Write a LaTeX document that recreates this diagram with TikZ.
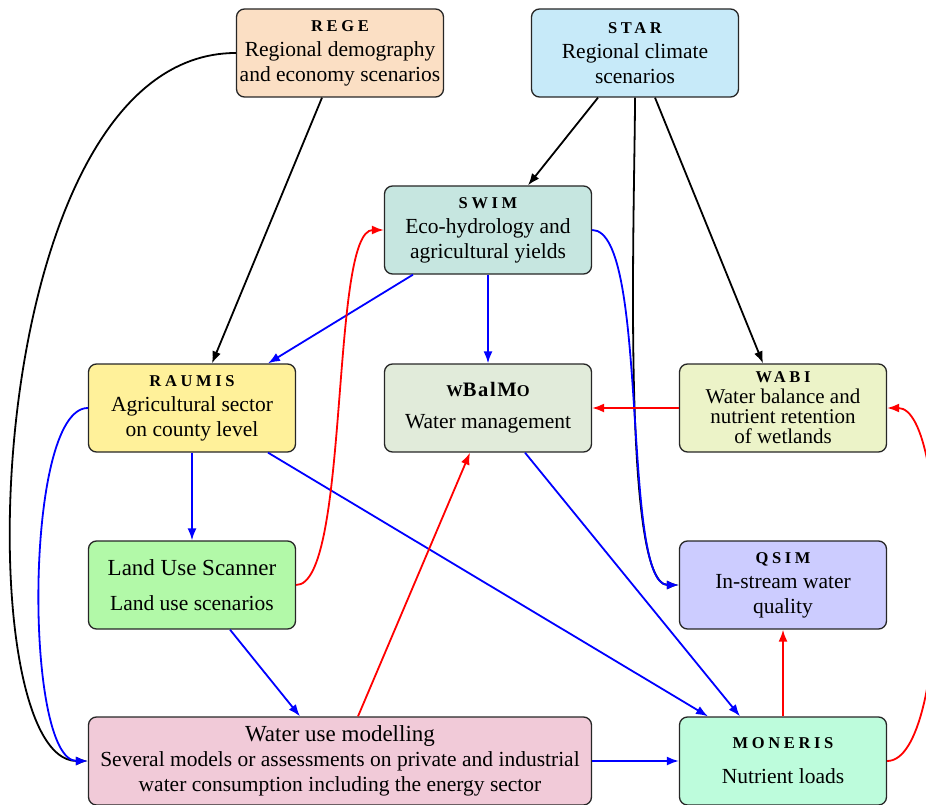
\documentclass[tikz,border=0pt]{standalone}
\usepackage{fontspec}
\setmainfont{Liberation Serif}
\usetikzlibrary{arrows.meta}
\newcommand\smc[1]{{\fontsize{16.5}{25}\selectfont\bfseries\addfontfeature{LetterSpace=22}#1}}
\definecolor{cRege}{RGB}{251,223,196}
\definecolor{cStar}{RGB}{199,234,249}
\definecolor{cSwim}{RGB}{198,230,224}
\definecolor{cRaumis}{RGB}{255,241,154}
\definecolor{cWbalmo}{RGB}{225,235,218}
\definecolor{cWabi}{RGB}{236,243,200}
\definecolor{cLus}{RGB}{178,249,168}
\definecolor{cQsim}{RGB}{204,204,255}
\definecolor{cWum}{RGB}{241,202,216}
\definecolor{cMoneris}{RGB}{189,252,220}
\begin{document}
\begin{tikzpicture}[x=1pt,y=-1pt,
  box/.style={draw=black!85, line width=1.3pt, rounded corners=8pt,
    minimum width=207pt, minimum height=88pt, inner sep=2pt, align=center,
    font=\fontsize{21.5}{25}\selectfont},
  arr/.style={line width=1.8pt, -{Latex[length=12pt,width=9pt]}},
  blk/.style={arr, draw=black},
  blu/.style={arr, draw=blue},
  rd/.style={arr, draw=red}]
\useasboundingbox (0,0) rectangle (926,805);

\node[box, fill=cRege] (rege) at (340,53) {\smc{REGE}\\Regional demography\\and economy scenarios};
\node[box, fill=cStar] (star) at (635,53) {\smc{STAR}\\Regional climate\\scenarios};
\node[box, fill=cSwim] (swim) at (488,230) {\smc{SWIM}\\Eco-hydrology and\\agricultural yields};
\node[box, fill=cRaumis] (raumis) at (192,408) {\smc{RAUMIS}\\Agricultural sector\\on county level};
\node[box, fill=cWbalmo] (wbalmo) at (488,408) {\smc{W}{\fontsize{20.5}{25}\selectfont\bfseries\addfontfeature{LetterSpace=8}B{}al{}M}\smc{O}\\[7pt]Water management};
\node[box, fill=cWabi] (wabi) at (783,408) {\smc{WABI}\\[-4pt]{\fontsize{21}{25}\selectfont Water balance and}\\[-5pt]{\fontsize{21}{25}\selectfont nutrient retention}\\[-5pt]{\fontsize{21}{25}\selectfont of wetlands}};
\node[box, fill=cLus] (lus) at (192,585) {{\fontsize{23}{25}\selectfont Land Use Scanner}\\[10pt]Land use scenarios};
\node[box, fill=cQsim] (qsim) at (783,585) {\smc{QSIM}\\In-stream water\\quality};
\node[box, fill=cWum, minimum width=503pt] (wum) at (340,761) {{\fontsize{23}{25}\selectfont Water use modelling}\\Several models or assessments on private and industrial\\water consumption including the energy sector};
\node[box, fill=cMoneris] (moneris) at (783,761) {\smc{MONERIS}\\[10pt]Nutrient loads};

% black
\draw[blk] (rege.west) .. controls +(-257,0) and +(-124,0) .. (wum.west);
\draw[blk] ([xshift=-18pt]rege.south) -- ([xshift=20pt]raumis.north);
\draw[blk] ([xshift=-37pt]star.south) -- ([xshift=40pt]swim.north);
\draw[blk] ([xshift=20pt]star.south) -- ([xshift=-20pt]wabi.north);
\draw[blk] (star.south) .. controls +(0,100) and +(-58,0) .. (qsim.west);

% blue
\draw[blu] (raumis.west) .. controls +(-64,0) and +(-64,0) .. (wum.west);
\draw[blu] ([xshift=-75pt]swim.south) -- ([xshift=76pt]raumis.north);
\draw[blu] (swim.south) -- (wbalmo.north);
\draw[blu] (swim.east) .. controls +(58,0) and +(-58,0) .. (qsim.west);
\draw[blu] (raumis.south) -- (lus.north);
\draw[blu] ([xshift=76pt]raumis.south) -- ([xshift=-75pt]moneris.north);
\draw[blu] ([xshift=37pt]wbalmo.south) -- ([xshift=-43pt]moneris.north);
\draw[blu] ([xshift=38pt]lus.south) -- ([xshift=-40pt]wum.north);
\draw[blu] (wum.east) -- (moneris.west);

% red
\draw[rd] (lus.east) .. controls +(54,0) and +(-54,0) .. (swim.west);
\draw[rd] ([xshift=18pt]wum.north) -- ([xshift=-18pt]wbalmo.south);
\draw[rd] (wabi.west) -- (wbalmo.east);
\draw[rd] (moneris.north) -- (qsim.south);
\draw[rd] (moneris.east) .. controls +(64,0) and +(64,0) .. (wabi.east);
\end{tikzpicture}
\end{document}
